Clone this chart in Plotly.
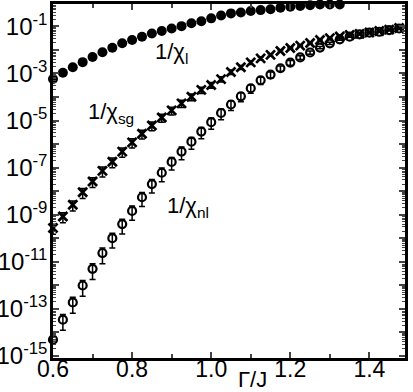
import plotly.graph_objects as go

# Gamma/J grid, step 0.025
gamma = [0.6 + 0.025 * i for i in range(37)]

# log10 of 1/chi_l (filled dots, up to 1.375)
log_chi_l = [-3.24, -2.97, -2.74, -2.52, -2.30, -2.10, -1.91, -1.72, -1.58, -1.44,
             -1.30, -1.20, -1.09, -0.99, -0.87, -0.78, -0.66, -0.54, -0.45, -0.41,
             -0.35, -0.31, -0.27, -0.21, -0.17, -0.13, -0.10, -0.07, -0.07, -0.07,
             -0.05, -0.04]

# log10 of 1/chi_sg (crosses)
log_chi_sg = [-9.57, -9.08, -8.58, -8.05, -7.59, -7.14, -6.75, -6.32, -5.93, -5.56,
              -5.21, -4.87, -4.57, -4.27, -3.99, -3.70, -3.49, -3.24, -2.94, -2.74,
              -2.53, -2.36, -2.21, -2.05, -1.92, -1.82, -1.71, -1.58, -1.50, -1.43,
              -1.37, -1.32, -1.26, -1.20, -1.14, -1.07, -0.99]
err_sg = [0.45, 0.45, 0.45, 0.45, 0.45, 0.45, 0.45, 0.42, 0.42, 0.40,
          0.40, 0.38, 0.36, 0.34, 0.32, 0.30, 0.28, 0.25, 0.22, 0.20,
          0.18, 0.15, 0.12, 0.10, 0.08, 0.05, 0.0, 0.0, 0.0, 0.0,
          0.0, 0.0, 0.0, 0.0, 0.0, 0.0, 0.0]

# log10 of 1/chi_nl (open circles)
log_chi_nl = [-14.31, -13.46, -12.73, -12.01, -11.30, -10.63, -10.00, -9.40, -8.84, -8.26,
              -7.70, -7.22, -6.76, -6.32, -5.90, -5.47, -5.07, -4.68, -4.32, -3.97,
              -3.63, -3.29, -3.05, -2.78, -2.54, -2.32, -2.11, -1.90, -1.72, -1.55,
              -1.44, -1.34, -1.27, -1.23, -1.16, -1.09, -1.02]
err_nl = [0.0, 0.65, 0.65, 0.65, 0.65, 0.65, 0.62, 0.62, 0.60, 0.60,
          0.58, 0.58, 0.55, 0.55, 0.52, 0.50, 0.50, 0.48, 0.45, 0.42,
          0.38, 0.34, 0.30, 0.26, 0.22, 0.18, 0.15, 0.12, 0.10, 0.08,
          0.05, 0.0, 0.0, 0.0, 0.0, 0.0, 0.0]

y_labels = [-15, -13, -11, -9, -7, -5, -3, -1]


def vals(logs):
    return [10 ** v for v in logs]


chi_l = vals(log_chi_l)
chi_sg = vals(log_chi_sg)
chi_nl = vals(log_chi_nl)

fig = go.Figure()

fig.add_trace(go.Scatter(
    x=gamma[:len(chi_l)], y=chi_l, mode="markers",
    marker=dict(symbol="circle", size=10, color="black"),
    cliponaxis=False,
))
fig.add_trace(go.Scatter(
    x=gamma, y=chi_sg, mode="markers",
    marker=dict(symbol="x-thin", size=9, color="black",
                line=dict(width=2.7, color="black")),
    error_y=dict(type="data", array=[f * v for f, v in zip(err_sg, chi_sg)],
                 color="black", thickness=1.5, width=3),
    cliponaxis=False,
))
fig.add_trace(go.Scatter(
    x=gamma, y=chi_nl, mode="markers",
    marker=dict(symbol="circle-open", size=8, color="black",
                line=dict(width=2.2, color="black")),
    error_y=dict(type="data", array=[f * v for f, v in zip(err_nl, chi_nl)],
                 color="black", thickness=1.5, width=3),
    cliponaxis=False,
))

font = "Liberation Sans, Arial, sans-serif"

# y ticks: every decade, labels on odd decades
tickvals = [10 ** k for k in range(-15, 0)]
ticktext = [f"10<sup>{k}</sup>" if k in y_labels else "" for k in range(-15, 0)]
minor_vals = [m * 10 ** k for k in range(-16, 0) for m in range(2, 10)]

fig.update_yaxes(
    type="log", range=[-15.09, -0.05], automargin=False,
    tickvals=tickvals, ticktext=ticktext,
    ticks="inside", ticklen=6, tickwidth=1.5, ticklabelstandoff=-2,
    minor=dict(tickvals=minor_vals, ticks="inside", ticklen=3, tickwidth=1),
    showline=True, linewidth=2.5, linecolor="black", mirror="ticks",
    showgrid=False, zeroline=False,
    tickfont=dict(size=24, color="black", family=font),
)
fig.update_xaxes(
    range=[0.6, 1.49], automargin=False,
    tickvals=[0.6, 0.8, 1.0, 1.2, 1.4], ticktext=["0.6", "0.8", "1.0", "1.2", "1.4"],
    ticks="inside", ticklen=6, tickwidth=1.5, ticklabelstandoff=-11,
    minor=dict(tickvals=[0.7, 0.9, 1.1, 1.3], ticks="inside", ticklen=4, tickwidth=1.5),
    showline=True, linewidth=2.5, linecolor="black", mirror="ticks",
    showgrid=False, zeroline=False,
    tickfont=dict(size=23, color="black", family=font),
)

ann_font = dict(size=22, color="black", family=font)
for text, xp, yp in [
    ("1/χ<sub>l</sub>", 0.338, 0.862),
    ("1/χ<sub>sg</sub>", 0.165, 0.692),
    ("1/χ<sub>nl</sub>", 0.384, 0.427),
    ("Γ/J", 0.568, -0.062),
]:
    fig.add_annotation(text=text, x=xp, y=yp, xref="paper", yref="paper",
                       xanchor="center", yanchor="middle",
                       showarrow=False, font=ann_font)

fig.update_layout(
    width=413, height=392,
    margin=dict(l=53, r=8, t=4, b=34),
    paper_bgcolor="white", plot_bgcolor="white",
    showlegend=False,
)

fig.write_html("out.html", config={"displayModeBar": False},
               post_script="document.body.style.margin='0';")
